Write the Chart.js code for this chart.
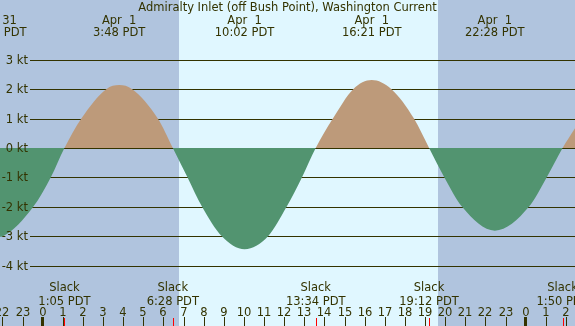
<!DOCTYPE html>
<html>
<head>
<meta charset="utf-8">
<script src="https://cdn.jsdelivr.net/npm/chart.js"></script>
<style>
html, body { margin: 0; padding: 0; background: #b0c4de; }
canvas { display: block; }
</style>
</head>
<body>
<canvas id="tide-canvas" width="575" height="326"></canvas>
<script>
// current in knots, hours counted from Apr 1 00:00 PDT
var hours = [-2.3, -2.15, -1.97, -0.47, 0.40, 1.083, 1.92, 3.16, 3.8, 4.45, 5.72, 6.467,
             7.2, 7.92, 8.9, 10.033, 11.2, 12.12, 12.88, 13.567, 14.42, 15.43, 16.35, 17.33,
             18.45, 19.2, 19.96, 20.84, 22.467, 24.16, 25.04, 25.833, 26.45];
var knots = [-3.01, -3.02, -3.0, -2, -1, 0, 1, 2, 2.14, 2, 1, 0,
             -1, -2, -3, -3.44, -3, -2, -1, 0, 1, 2, 2.31, 2,
             1, 0, -1, -2, -2.81, -2, -1, 0, 0.67];

// max / min current labels along the top
var peakHours = [-2.28, 3.8, 10.033, 16.35, 22.467];
var peakDates = ['Mar 31', 'Apr  1', 'Apr  1', 'Apr  1', 'Apr  1'];
var peakTimes = ['21:43 PDT', '3:48 PDT', '10:02 PDT', '16:21 PDT', '22:28 PDT'];

// slack water labels along the bottom
var slackHours = [1.083, 6.467, 13.567, 19.2, 25.833];
var slackTimes = ['1:05 PDT', '6:28 PDT', '13:34 PDT', '19:12 PDT', '1:50 PDT'];

var ktTicks = [3, 2, 1, 0, -1, -2, -3, -4];
var sunrise = 6.77, sunset = 19.64;

var title = 'Admiralty Inlet (off Bush Point), Washington Current';
var FONT = '11.5px "DejaVu Sans", sans-serif';
var INK = '#333300';

var points = hours.map(function (h, i) { return { x: h, y: knots[i] }; });

var tidePlugin = {
    id: 'tideDecor',
    beforeDatasetsDraw: function (chart) {
        var ctx = chart.ctx, xs = chart.scales.x, ys = chart.scales.y;
        var w = chart.width, h = chart.height;
        ctx.save();
        ctx.fillStyle = '#b0c4de';
        ctx.fillRect(0, 0, w, h);
        var x0 = Math.round(xs.getPixelForValue(sunrise));
        var x1 = Math.round(xs.getPixelForValue(sunset));
        ctx.fillStyle = '#e0f7ff';
        ctx.fillRect(x0, 0, x1 - x0, h);

        ctx.fillStyle = INK;
        ktTicks.forEach(function (k) {
            var y = Math.round(ys.getPixelForValue(k));
            ctx.fillRect(30, y, w - 30, 1);
        });
        ctx.restore();
    },
    afterDatasetsDraw: function (chart) {
        var ctx = chart.ctx, xs = chart.scales.x, ys = chart.scales.y;
        var w = chart.width, h = chart.height;
        ctx.save();
        ctx.font = FONT;
        ctx.fillStyle = INK;
        ctx.textBaseline = 'alphabetic';

        ctx.textAlign = 'right';
        ktTicks.forEach(function (k) {
            var y = Math.round(ys.getPixelForValue(k));
            ctx.fillText(k + ' kt', 28, y + 4);
        });

        ctx.textAlign = 'center';
        ctx.fillText(title, w / 2, 11);

        peakHours.forEach(function (ph, i) {
            var x = xs.getPixelForValue(ph);
            ctx.fillText(peakDates[i], x, 24);
            ctx.fillText(peakTimes[i], x, 36);
        });

        slackHours.forEach(function (sh, i) {
            var x = xs.getPixelForValue(sh);
            ctx.fillText('Slack', x, 291);
            ctx.fillText(slackTimes[i], x, 305);
        });

        for (var hr = -2; hr <= 26; hr++) {
            var x = Math.round(xs.getPixelForValue(hr));
            var label = String((hr + 24) % 24);
            ctx.fillStyle = INK;
            ctx.fillText(label, x, 316);
            if (hr % 24 === 0) ctx.fillRect(x - 2, 317, 3, h - 317);
            else ctx.fillRect(x, 317, 1, h - 317);
        }

        ctx.fillStyle = '#ff0000';
        slackHours.forEach(function (sh) {
            var x = Math.round(xs.getPixelForValue(sh));
            ctx.fillRect(x, 318, 1, h - 318);
        });
        ctx.restore();
    }
};

var tideChart = new Chart(document.getElementById('tide-canvas').getContext('2d'), {
    type: 'line',
    data: {
        datasets: [{
            data: points,
            borderColor: 'rgba(0,0,0,0)',
            borderWidth: 0,
            pointRadius: 0,
            cubicInterpolationMode: 'monotone',
            fill: { target: 'origin', above: '#bd9a7a', below: '#529470' }
        }]
    },
    options: {
        responsive: false,
        animation: false,
        events: [],
        layout: { padding: 0 },
        plugins: { legend: { display: false }, tooltip: { enabled: false } },
        scales: {
            x: { type: 'linear', display: false, min: -2.12, max: 26.45 },
            y: { type: 'linear', display: false, min: -6.05, max: 5.03 }
        }
    },
    plugins: [tidePlugin]
});
</script>
</body>
</html>
